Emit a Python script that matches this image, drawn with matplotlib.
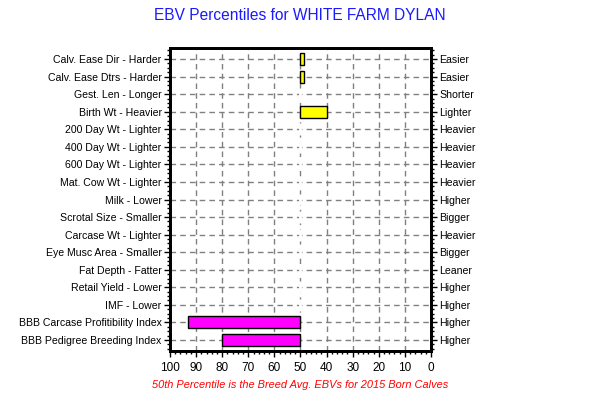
import matplotlib.pyplot as plt
from matplotlib.ticker import MultipleLocator

plt.rcParams['font.family'] = ['Liberation Sans', 'DejaVu Sans']

# ---- data ----
traits = ['Calv. Ease Dir - Harder', 'Calv. Ease Dtrs - Harder',
          'Gest. Len - Longer', 'Birth Wt - Heavier', '200 Day Wt - Lighter',
          '400 Day Wt - Lighter', '600 Day Wt - Lighter',
          'Mat. Cow Wt - Lighter', 'Milk - Lower', 'Scrotal Size - Smaller',
          'Carcase Wt - Lighter', 'Eye Musc Area - Smaller',
          'Fat Depth - Fatter', 'Retail Yield - Lower', 'IMF - Lower',
          'BBB Carcase Profitibility Index', 'BBB Pedigree Breeding Index']
right_labels = ['Easier', 'Easier', 'Shorter', 'Lighter', 'Heavier',
                'Heavier', 'Heavier', 'Heavier', 'Higher', 'Bigger',
                'Heavier', 'Bigger', 'Leaner', 'Higher', 'Higher',
                'Higher', 'Higher']
percentiles = [48.5, 48.5, 50, 40, 50, 50, 50, 50, 50, 50, 50, 50, 50, 50,
               50, 93, 80]
is_index = [False] * 15 + [True, True]
breed_avg = 50

fig = plt.figure(figsize=(6, 3.95), dpi=100)
ax = fig.add_axes([0.2833, 0.1114, 0.435, 0.767])

ys = list(range(len(traits)))
for y, p, idx in zip(ys, percentiles, is_index):
    if p == breed_avg:
        # empty bar: hides the 50 gridline like the original
        ax.barh(y, 0, left=breed_avg, height=0.68, color='white',
                edgecolor='white', linewidth=2, zorder=2)
    else:
        ax.barh(y, p - breed_avg, left=breed_avg, height=0.68,
                color='#ff00ff' if idx else '#ffff00',
                edgecolor='black', linewidth=1, zorder=3)

ax.set_xlim(100, 0)
ax.set_ylim(len(traits) - 1 + 0.63, -0.63)
ax.xaxis.set_major_locator(MultipleLocator(10))
ax.xaxis.set_minor_locator(MultipleLocator(2))
ax.set_yticks(ys)
ax.set_yticklabels(traits, fontsize=7.6)
ax.yaxis.set_minor_locator(MultipleLocator(0.25))
ax.tick_params(axis='x', labelsize=8.5, length=4, width=1, pad=4)
ax.tick_params(axis='x', which='minor', length=2.5, width=1)
ax.tick_params(axis='y', length=4, width=1, pad=2, right=True, which='both')
ax.tick_params(axis='y', which='minor', length=2, width=1)

ax2 = ax.twinx()
ax2.set_ylim(ax.get_ylim())
ax2.set_yticks(ys)
ax2.set_yticklabels(right_labels, fontsize=7.6)
ax2.tick_params(axis='y', length=4, width=1, pad=2)
ax2.yaxis.set_minor_locator(MultipleLocator(0.25))
ax2.tick_params(axis='y', which='minor', length=2, width=1)

ax.grid(True, color='#808080', linestyle=(0, (4, 3)), linewidth=1)
ax.set_axisbelow(True)
for a in (ax, ax2):
    for s in a.spines.values():
        s.set_linewidth(2)

fig.text(0.5, 0.962, 'EBV Percentiles for WHITE FARM DYLAN', ha='center',
         va='center', fontsize=11.2, color='#1a1aff')
fig.text(0.5, 0.025,
         '50th Percentile is the Breed Avg. EBVs for 2015 Born Calves',
         ha='center', va='center', fontsize=7.9, color='#ff0000',
         style='italic')

fig.savefig('out.png', dpi=100)
